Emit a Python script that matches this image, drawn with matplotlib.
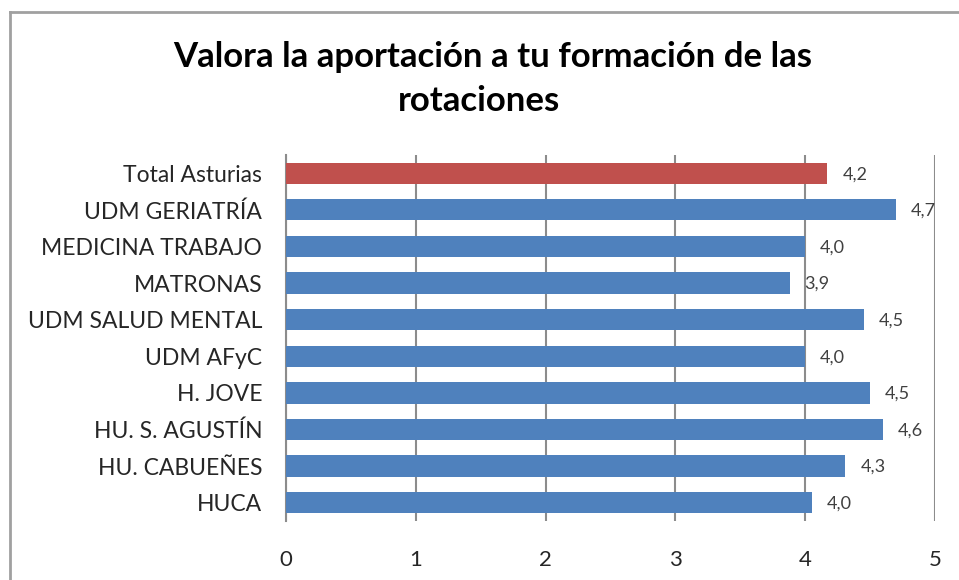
import matplotlib
matplotlib.use("Agg")
import matplotlib.pyplot as plt
from matplotlib.lines import Line2D

categories = ["Total Asturias", "UDM GERIATRÍA", "MEDICINA TRABAJO", "MATRONAS",
              "UDM SALUD MENTAL", "UDM AFyC", "H. JOVE", "HU. S. AGUSTÍN",
              "HU. CABUEÑES", "HUCA"]
values = [4.17, 4.70, 4.00, 3.88, 4.45, 4.00, 4.50, 4.60, 4.31, 4.05]
value_labels = ["4,2", "4,7", "4,0", "3,9", "4,5", "4,0", "4,5", "4,6", "4,3", "4,0"]
bar_colors = ["#C0504D"] + ["#4F81BD"] * 9
x_ticks = [0, 1, 2, 3, 4, 5]
title_line1 = "Valora la aportación a tu formación de las"
title_line2 = "rotaciones"

plt.rcParams['font.family'] = ['Lato', 'DejaVu Sans']

fig = plt.figure(figsize=(9.59, 5.80), dpi=100)
ax = fig.add_axes([0.2982, 0.1017, 0.975 - 0.2982, 0.7328 - 0.1017])

n = len(categories)
ypos = list(range(n - 1, -1, -1))
ax.barh(ypos, values, height=0.58, color=bar_colors, zorder=3)
ax.set_ylim(-0.5, n - 0.5)
ax.set_xlim(0, 5)
ax.set_xticks(x_ticks)
ax.set_xticklabels([str(t) for t in x_ticks], fontsize=16, color="#262626")
ax.set_yticks(ypos)
ax.set_yticklabels(categories, fontsize=16.5, color="#262626")
ax.tick_params(axis='both', length=0)
ax.tick_params(axis='y', pad=17)
ax.tick_params(axis='x', pad=21)
for s in ["top", "right", "bottom"]:
    ax.spines[s].set_visible(False)
ax.spines["left"].set_color("#8C8C8C")
ax.spines["left"].set_linewidth(1.5)
ax.xaxis.grid(True, color="#8C8C8C", linewidth=1.5, zorder=0)
ax.set_axisbelow(True)

for y, v, lab in zip(ypos, values, value_labels):
    ax.annotate(lab, xy=(v, y), xytext=(15, -1), textcoords="offset pixels",
                va="center", ha="left", fontsize=13, color="#404040")

fig.text(0.5136, 0.902, title_line1, ha="center", va="center",
         fontsize=25, fontweight="bold", color="#000000")
fig.text(0.4995, 0.826, title_line2, ha="center", va="center",
         fontsize=25, fontweight="bold", color="#000000")

fig.add_artist(Line2D([10/959, 10/959], [0, 1 - 12/580], transform=fig.transFigure,
                      color="#A0A0A0", linewidth=2))
fig.add_artist(Line2D([10/959, 1], [1 - 12/580, 1 - 12/580], transform=fig.transFigure,
                      color="#A0A0A0", linewidth=2))

fig.savefig("out.png", dpi=100)
